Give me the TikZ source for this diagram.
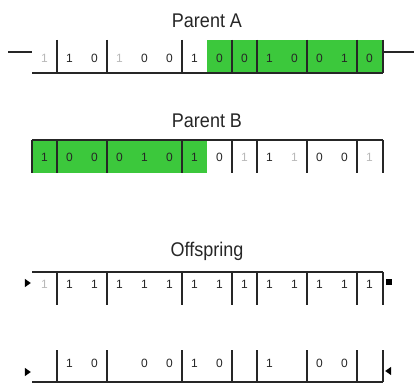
\documentclass[tikz,border=0pt]{standalone}
\usepackage{fontspec}
\setmainfont{Liberation Sans}
\usetikzlibrary{shapes.geometric}
\definecolor{chromgreen}{RGB}{60,200,60}
\definecolor{faint}{RGB}{185,185,185}
\begin{document}
\begin{tikzpicture}[x=1pt,y=-1pt,
  rowline/.style={line width=1.3pt,black!85},
  title/.style={font=\fontsize{18}{20}\selectfont,inner sep=0pt,text=black!85,yscale=1.1},
  bit/.style={font=\fontsize{12}{14}\selectfont,inner sep=0pt,text=black!85},
  fbit/.style={bit,text=faint},
  marker/.style={fill=black,draw=none,inner sep=0pt}]
\useasboundingbox (0,0) rectangle (414,387);
\fill[white] (0,0) rectangle (414,387);
% ---------- Parent A ----------
\node[title] (tA) at (207,21) {Parent A};
\fill[chromgreen] (207,40) rectangle (383,73);
\draw[rowline] (32,73) -- (383,73);
\foreach \x in {57,107,182,232,257,307,357,383}
  \draw[rowline] (\x,40) -- (\x,73);
\coordinate (aL1) at (8,52); \coordinate (aL2) at (32,52);
\coordinate (aR1) at (383,52); \coordinate (aR2) at (414,52);
\draw[rowline] (aL1) -- (aL2);
\draw[rowline] (aR1) -- (aR2);
\foreach \v/\i in {1/2,0/3,0/5,0/6,1/7,0/8,0/9,1/10,0/11,0/12,1/13,0/14}
  \node[bit] (a\i) at ({32+25*(\i-0.5)},58) {\v};
\foreach \v/\i in {1/1,1/4}
  \node[fbit] (a\i) at ({32+25*(\i-0.5)},58) {\v};
% ---------- Parent B ----------
\node[title] (tB) at (207,121) {Parent B};
\fill[chromgreen] (32,140) rectangle (207,173);
\draw[rowline] (32,140) -- (383,140);
\foreach \x in {32,57,107,182,232,257,307,357,383}
  \draw[rowline] (\x,140) -- (\x,173);
\foreach \v/\i in {1/1,0/2,0/3,0/4,1/5,0/6,1/7,0/8,1/10,0/12,0/13}
  \node[bit] (b\i) at ({32+25*(\i-0.5)},157) {\v};
\foreach \v/\i in {1/9,1/11,1/14}
  \node[fbit] (b\i) at ({32+25*(\i-0.5)},157) {\v};
% ---------- Offspring ----------
\node[title] (tO) at (207,251) {Offspring};
\draw[rowline] (32,272) -- (383,272);
\foreach \x in {57,107,182,232,257,307,357,383}
  \draw[rowline] (\x,272) -- (\x,305);
\foreach \v/\i in {1/2,1/3,1/4,1/5,1/6,1/7,1/8,1/9,1/10,1/11,1/12,1/13,1/14}
  \node[bit] (o\i) at ({32+25*(\i-0.5)},284) {\v};
\node[fbit] (o1) at (44.5,284) {1};
\node[marker,isosceles triangle,isosceles triangle apex angle=70,minimum size=6pt] (oL) at (27,283) {};
\node[marker,minimum size=6pt] (oR) at (389,282) {};
% ---------- Second offspring ----------
\draw[rowline] (32,382) -- (383,382);
\foreach \x in {57,107,182,232,257,307,357,383}
  \draw[rowline] (\x,350) -- (\x,382);
\foreach \v/\i in {1/2,0/3,0/5,0/6,1/7,0/8,1/10,0/12,0/13}
  \node[bit] (c\i) at ({32+25*(\i-0.5)},363) {\v};
\node[marker,isosceles triangle,isosceles triangle apex angle=70,minimum size=6pt] (cL) at (27,372) {};
\node[marker,isosceles triangle,isosceles triangle apex angle=70,minimum size=6pt,shape border rotate=180] (cR) at (389,371) {};
\end{tikzpicture}
\end{document}
